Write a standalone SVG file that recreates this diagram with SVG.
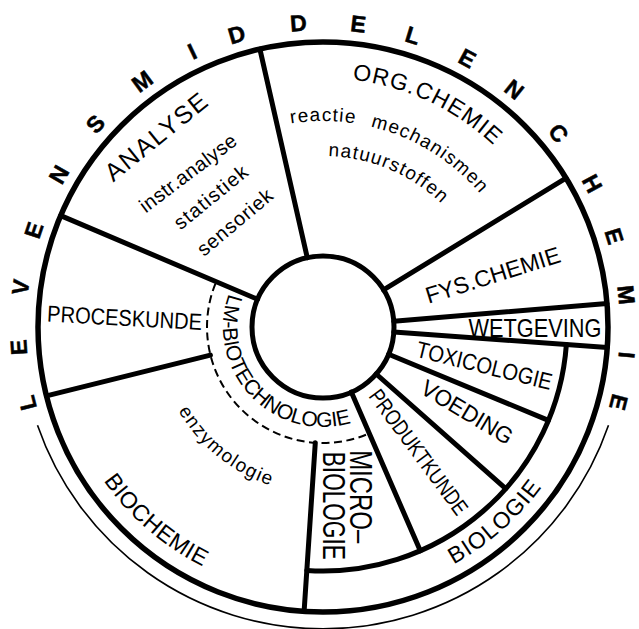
<svg xmlns="http://www.w3.org/2000/svg" xmlns:xlink="http://www.w3.org/1999/xlink" width="639" height="629" viewBox="0 0 639 629">
<style>
.thick{fill:none;stroke:#000;stroke-width:5;stroke-linecap:round}
.thin{fill:none;stroke:#000;stroke-width:1.6}
.dash{fill:none;stroke:#000;stroke-width:2;stroke-dasharray:8 4.5}
text{font-family:"Liberation Sans",Arial,sans-serif;fill:#000}
.big{font-size:23px}
.small{font-size:19px}
.ring{font-size:23px;font-weight:bold;stroke:#000;stroke-width:0.5}
</style>
<defs>
<path id="ringPath" d="M43.91,428.58 A297,297 0 1 1 602.09,428.58"/>
<path id="orgPath" d="M237.84,93.02 A249,249 0 0 1 556.98,241.84"/>
<path id="reactPath" d="M252.54,133.42 A206,206 0 0 1 516.58,256.54"/>
<path id="natPath" d="M264.51,166.31 A171,171 0 0 1 483.69,268.51"/>
<path id="lmPath" d="M232.37,284.74 A100,100 0 0 0 373,413.6"/>
<path id="enzPath" d="M158.54,356 A167,167 0 0 0 323,494"/>
<path id="biochemPath" d="M71.16,418.66 A268,268 0 0 0 276.46,590.93"/>
<path id="biologiePath" d="M370.06,593.88 A271,271 0 0 0 577.66,419.69"/>
</defs>
<rect width="639" height="629" fill="#fff"/>

<g id="frame">
<circle class="thick" cx="323" cy="327" r="285" style="stroke-width:5.5"/>
<circle class="thick" cx="323" cy="327" r="71"/>
<path class="thin" d="M37.5,425.3 A302,302 0 0 0 608.5,425.3"/>
<path class="dash" d="M215.45,283.55 A116,116 0 0 0 366.45,434.55"/>
<path class="thick" d="M566.38,344.45 A244,244 0 0 1 306.83,570.46"/>
</g>

<g id="connectors">
<line class="thick" x1="307.3" y1="257.8" x2="259.9" y2="49.1"/>
<line class="thick" x1="257.6" y1="299.3" x2="60.7" y2="215.6"/>
<line class="thick" x1="383.5" y1="289.9" x2="566" y2="178.1"/>
<line class="thick" x1="393.8" y1="321.2" x2="607" y2="303.6"/>
<line class="thick" x1="393.8" y1="332.1" x2="607.3" y2="347.4"/>
<line class="thick" x1="388.6" y1="354.2" x2="548.4" y2="420.4"/>
<line class="thick" x1="376.2" y1="374" x2="505.7" y2="488.7"/>
<line class="thick" x1="351.3" y1="392.1" x2="420.3" y2="550.8"/>
<line class="thick" x1="315.3" y1="442.7" x2="304.1" y2="611.4"/>
<line class="thick" x1="210.4" y1="355.1" x2="46.5" y2="395.9"/>
</g>

<g id="title">
<text class="ring" text-anchor="middle"><textPath href="#ringPath" startOffset="29">L</textPath><textPath href="#ringPath" startOffset="84">E</textPath><textPath href="#ringPath" startOffset="142.5">V</textPath><textPath href="#ringPath" startOffset="199.6">E</textPath><textPath href="#ringPath" startOffset="259.2">N</textPath><textPath href="#ringPath" startOffset="319.8">S</textPath><textPath href="#ringPath" startOffset="381.5">M</textPath><textPath href="#ringPath" startOffset="438.5">I</textPath><textPath href="#ringPath" startOffset="484.7">D</textPath><textPath href="#ringPath" startOffset="545.8">D</textPath><textPath href="#ringPath" startOffset="604.4">E</textPath><textPath href="#ringPath" startOffset="658.8">L</textPath><textPath href="#ringPath" startOffset="716.4">E</textPath><textPath href="#ringPath" startOffset="771.3">N</textPath><textPath href="#ringPath" startOffset="832">C</textPath><textPath href="#ringPath" startOffset="891.1">H</textPath><textPath href="#ringPath" startOffset="946.5">E</textPath><textPath href="#ringPath" startOffset="1005.1">M</textPath><textPath href="#ringPath" startOffset="1063.7">I</textPath><textPath href="#ringPath" startOffset="1110.3">E</textPath></text>
</g>

<g id="analyse">
<text text-anchor="middle" style="font-size:25px" transform="translate(161.4,143.4) rotate(-39)" textLength="124" lengthAdjust="spacing">ANALYSE</text>
<text text-anchor="middle" style="font-size:20px" transform="translate(192,178.5) rotate(-37)" textLength="116" lengthAdjust="spacing">instr.analyse</text>
<text text-anchor="middle" style="font-size:20px" transform="translate(215,202.5) rotate(-39)" textLength="89" lengthAdjust="spacing">statistiek</text>
<text text-anchor="middle" style="font-size:20px" transform="translate(239.2,227.5) rotate(-40)" textLength="92" lengthAdjust="spacing">sensoriek</text>
</g>

<g id="org-chemie">
<text class="big" text-anchor="middle" letter-spacing="1.1"><textPath href="#orgPath" startOffset="195.8">ORG.CHEMIE</textPath></text>
<text class="small" letter-spacing="1.2" word-spacing="8.4"><textPath href="#reactPath" startOffset="39.5">reactie mechanismen</textPath></text>
<text class="small" letter-spacing="1.2"><textPath href="#natPath" startOffset="65">natuurstoffen</textPath></text>
</g>

<g id="fys-chemie">
<text class="big" text-anchor="middle" transform="translate(495.2,282.8) rotate(-17.5)" textLength="140" lengthAdjust="spacingAndGlyphs">FYS.CHEMIE</text>
</g>

<g id="wetgeving">
<text text-anchor="middle" style="font-size:25px" transform="translate(535,336.5)" textLength="133" lengthAdjust="spacingAndGlyphs">WETGEVING</text>
</g>

<g id="toxicologie">
<text class="big" text-anchor="middle" transform="translate(482.5,373.3) rotate(13.9)" textLength="139" lengthAdjust="spacingAndGlyphs">TOXICOLOGIE</text>
</g>

<g id="voeding">
<text class="big" text-anchor="middle" transform="translate(463.1,419) rotate(31)" textLength="103" lengthAdjust="spacingAndGlyphs">VOEDING</text>
</g>

<g id="produktkunde">
<text text-anchor="middle" style="font-size:22px" transform="translate(412.6,456.5) rotate(53.5)" textLength="150" lengthAdjust="spacingAndGlyphs">PRODUKTKUNDE</text>
</g>

<g id="microbiologie">
<text text-anchor="middle" style="font-size:32px" transform="translate(349.5,496.7) rotate(90)" textLength="93" lengthAdjust="spacingAndGlyphs">MICRO–</text>
<text text-anchor="middle" style="font-size:31px" transform="translate(322.5,505.8) rotate(90)" textLength="108" lengthAdjust="spacingAndGlyphs">BIOLOGIE</text>
</g>

<g id="biologie">
<text class="big" text-anchor="middle" letter-spacing="1.1"><textPath href="#biologiePath" startOffset="148.5">BIOLOGIE</textPath></text>
</g>

<g id="proceskunde">
<text class="big" text-anchor="middle" transform="translate(124.2,325.8) rotate(3.1)" textLength="155" lengthAdjust="spacingAndGlyphs">PROCESKUNDE</text>
</g>

<g id="lm-biotechnologie">
<text style="font-size:21px" text-anchor="middle" letter-spacing="-0.35"><textPath href="#lmPath" startOffset="119.2">LM-BIOTECHNOLOGIE</textPath></text>
</g>

<g id="biochemie">
<text class="small" text-anchor="middle" letter-spacing="1.4"><textPath href="#enzPath" startOffset="119.5">enzymologie</textPath></text>
<text class="big" text-anchor="middle" letter-spacing="0.4"><textPath href="#biochemPath" startOffset="136.6">BIOCHEMIE</textPath></text>
</g>
</svg>
